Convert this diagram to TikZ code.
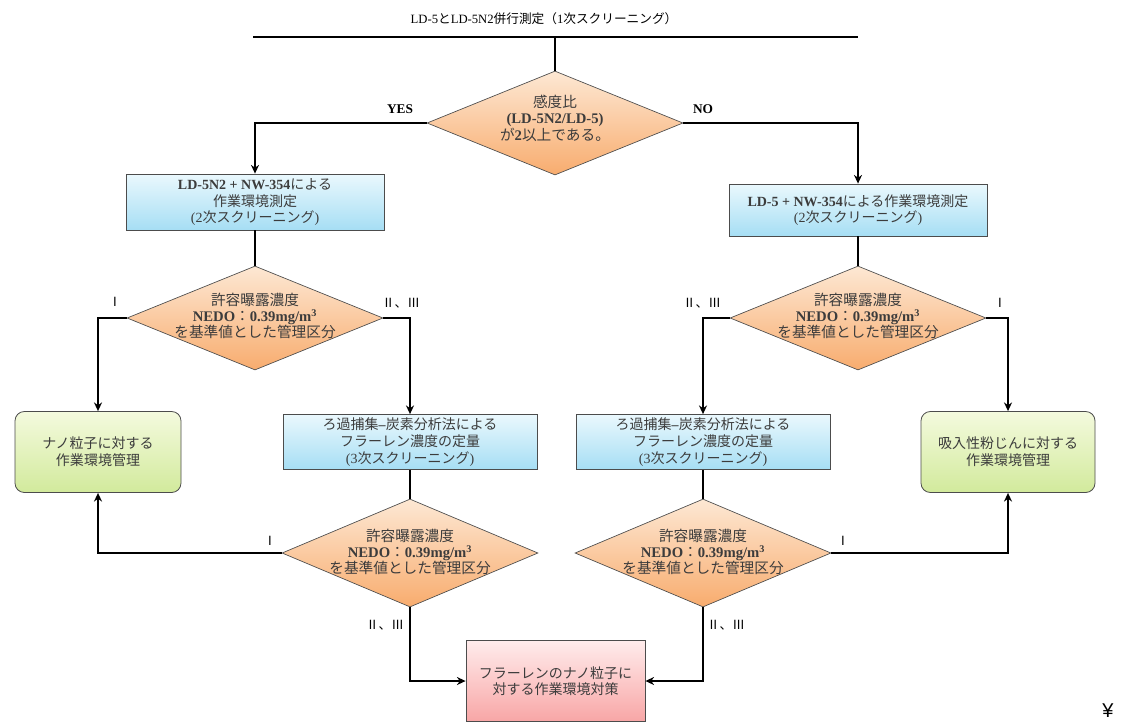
\documentclass[tikz,border=0pt]{standalone}
\usepackage{fontspec}
\setmainfont{Liberation Serif}
\newfontfamily\jp{Noto Sans CJK JP}
\newfontfamily\ysans{Liberation Sans}
\usetikzlibrary{shapes.geometric,arrows.meta}
\newcommand{\J}[1]{{\jp #1}}
\definecolor{bluetop}{RGB}{234,248,253}
\definecolor{bluebot}{RGB}{166,222,244}
\definecolor{ortop}{RGB}{253,232,212}
\definecolor{orbot}{RGB}{248,172,110}
\definecolor{grtop}{RGB}{244,250,222}
\definecolor{grbot}{RGB}{210,234,156}
\definecolor{pktop}{RGB}{255,236,236}
\definecolor{pkbot}{RGB}{248,166,166}
\definecolor{txt}{RGB}{60,60,60}
\tikzset{
  boxtext/.style={font=\fontsize{10.5}{12.5}\selectfont, text=txt, align=center},
  bluebox/.style={draw=black!70, line width=0.6pt, top color=bluetop, bottom color=bluebot, inner sep=0pt, boxtext},
  greenbox/.style={draw=black!70, line width=0.6pt, rounded corners=7pt, top color=grtop, bottom color=grbot, inner sep=0pt, boxtext},
  pinkbox/.style={draw=black!70, line width=0.6pt, top color=pktop, bottom color=pkbot, inner sep=0pt, boxtext},
  decision/.style={diamond, draw=black!70, line width=0.5pt, top color=ortop, bottom color=orbot, inner sep=0pt, minimum width=192pt},
  dtext/.style={font=\fontsize{11}{12.3}\selectfont, text=txt, align=center},
  conn/.style={line width=1.9pt, black},
  arr/.style={-{Stealth[length=6.5pt,width=6pt]}},
  lab/.style={font=\fontsize{10}{12}\selectfont, text=black},
  roman/.style={font=\jp\fontsize{9.5}{11}\selectfont, text=black}
}
\begin{document}
\begin{tikzpicture}[x=0.75pt, y=-0.75pt]
\fill[white] (0,0) rectangle (1124,726);
\useasboundingbox (0,0) rectangle (1124,726);

% title
\node[font=\fontsize{9.5}{11}\selectfont, text=black] (title) at (544,19) {LD-5\J{と}LD-5N2\J{併行測定（}1\J{次スクリーニング）}};
\coordinate (tlL) at (253,37);
\coordinate (tlR) at (858,37);
\coordinate (tlM) at (555,37);

% nodes
\node[decision, minimum height=78pt] (d1) at (555,123) {};
\node[dtext] (d1t) at (555,118) {\J{感度比}\\\textbf{(LD-5N2/LD-5)}\\\J{が}\textbf{2}\J{以上である。}};

\node[bluebox, minimum width=193.5pt, minimum height=42pt] (L1) at (255,202)
  {\textbf{LD-5N2 + NW-354}\J{による}\\\J{作業環境測定}\\(2\J{次スクリーニング})};
\node[bluebox, minimum width=193.5pt, minimum height=39pt] (R1) at (858,210)
  {\textbf{LD-5 + NW-354}\J{による作業環境測定}\\(2\J{次スクリーニング})};

\node[decision, minimum height=78pt] (L2) at (255,318) {};
\node[dtext] (L2t) at (255,316) {\J{許容曝露濃度}\\\textbf{NEDO}\J{：}\textbf{0.39mg/m\textsuperscript{3}}\\\J{を基準値とした管理区分}};
\node[decision, minimum height=78pt] (R2) at (858,318) {};
\node[dtext] (R2t) at (858,316) {\J{許容曝露濃度}\\\textbf{NEDO}\J{：}\textbf{0.39mg/m\textsuperscript{3}}\\\J{を基準値とした管理区分}};

\node[greenbox, minimum width=124.5pt, minimum height=60.75pt] (gL) at (98,452)
  {\J{ナノ粒子に対する}\\\J{作業環境管理}};
\node[greenbox, minimum width=130.5pt, minimum height=60.75pt] (gR) at (1008,452)
  {\J{吸入性粉じんに対する}\\\J{作業環境管理}};

\node[bluebox, minimum width=190.5pt, minimum height=41.25pt] (L3) at (410,442)
  {\J{ろ過捕集}\textbf{–}\J{炭素分析法による}\\\J{フラーレン濃度の定量}\\(3\J{次スクリーニング})};
\node[bluebox, minimum width=190.5pt, minimum height=41.25pt] (R3) at (703,442)
  {\J{ろ過捕集}\textbf{–}\J{炭素分析法による}\\\J{フラーレン濃度の定量}\\(3\J{次スクリーニング})};

\node[decision, minimum height=81pt] (L4) at (410,553) {};
\node[dtext] (L4t) at (410,552) {\J{許容曝露濃度}\\\textbf{NEDO}\J{：}\textbf{0.39mg/m\textsuperscript{3}}\\\J{を基準値とした管理区分}};
\node[decision, minimum height=81pt] (R4) at (703,553) {};
\node[dtext] (R4t) at (703,552) {\J{許容曝露濃度}\\\textbf{NEDO}\J{：}\textbf{0.39mg/m\textsuperscript{3}}\\\J{を基準値とした管理区分}};

\node[pinkbox, minimum width=134.25pt, minimum height=60.75pt] (P) at (555.5,681)
  {\J{フラーレンのナノ粒子に}\\\J{対する作業環境対策}};

% connectors
\draw[conn] (tlL) -- (tlR);
\draw[conn] (tlM) -- (d1.north);
\draw[conn,arr] (d1.west) -| (L1.north);
\draw[conn,arr] (d1.east) -| (R1.north);
\draw[conn] (L1.south) -- (L2.north);
\draw[conn] (R1.south) -- (R2.north);
\draw[conn,arr] (L2.west) -| (gL.north);
\draw[conn,arr] (L2.east) -| (L3.north);
\draw[conn,arr] (R2.west) -| (R3.north);
\draw[conn,arr] (R2.east) -| (gR.north);
\draw[conn] (L3.south) -- (L4.north);
\draw[conn] (R3.south) -- (R4.north);
\draw[conn,arr] (L4.west) -| (gL.south);
\draw[conn,arr] (R4.east) -| (gR.south);
\draw[conn,arr] (L4.south) |- (P.west);
\draw[conn,arr] (R4.south) |- (P.east);

% labels
\node[lab] (yes) at (400,109) {\textbf{YES}};
\node[lab] (no) at (703,109) {\textbf{NO}};
\node[roman] (l2a) at (115,302) {Ⅰ};
\node[roman] (l2b) at (401,303) {Ⅱ、Ⅲ};
\node[roman] (r2a) at (702,303) {Ⅱ、Ⅲ};
\node[roman] (r2b) at (1000,303) {Ⅰ};
\node[roman] (l4a) at (270,541) {Ⅰ};
\node[roman] (r4a) at (843,541) {Ⅰ};
\node[roman] (pa) at (385,625) {Ⅱ、Ⅲ};
\node[roman] (pb) at (726,625) {Ⅱ、Ⅲ};

\node[font=\ysans\fontsize{15}{17}\selectfont, text=black] (yen) at (1108,711) {¥};
\end{tikzpicture}
\end{document}
